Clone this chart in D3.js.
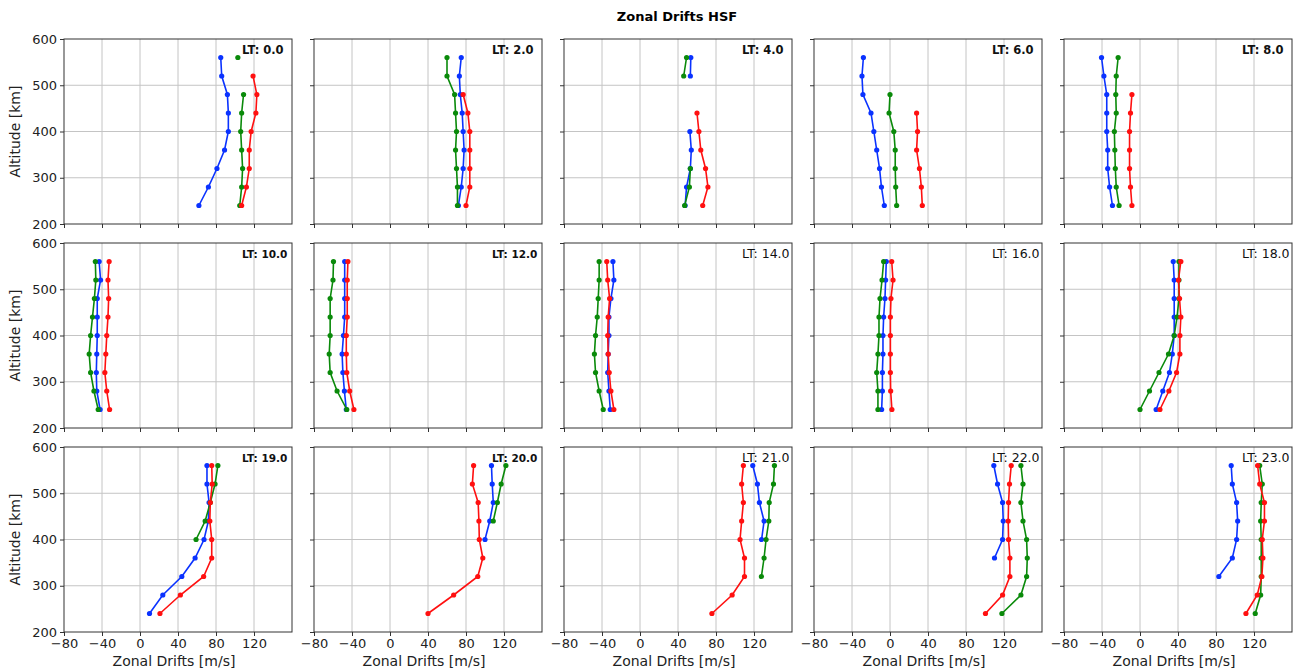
<!DOCTYPE html>
<html lang="en">
<head>
    <meta charset="UTF-8">
    <title>Zonal Drifts HSF</title>
    <script src="https://d3js.org/d3.v7.min.js"></script>
    <style>
        body { margin: 0; background: #fff; }
        text { font-family: "DejaVu Sans", sans-serif; }
    </style>
</head>
<body>
    <svg></svg>
    <script>
        const width = 1298;
        const height = 670;

        // altitudes in km (bottom to top)
        const altitudes = [240, 280, 320, 360, 400, 440, 480, 520, 560];
        const localTimes = [0, 2, 4, 6, 8, 10, 12, 14, 16, 18, 19, 20, 21, 22, 23];
        const xTicks = [-80, -40, 0, 40, 80, 120];
        const yTicks = [200, 300, 400, 500, 600];

        // zonal drifts [m/s], one array per LT, values matching altitudes; null = no data
        const blue = [
            [62, 72, 81, 89, 93, 93, 92, 86, 85],
            [72, 75, 77, 78, 77, 76, 74, 73, 75],
            [47.5, 49, 53, 54, 52.5, null, null, 53, 53.5],
            [-6, -9, -11, -14, -17, -20, -28.5, -29.5, -28],
            [-29, -32, -34, -34, -35, -35, -35, -38, -40.5],
            [-42, -45.5, -46, -45.5, -45, -45, -45, -41.5, -43],
            [-46, -48, -49.6, -50.4, -49, -47.7, -47.7, -47.7, -47.7],
            [-31.3, -32.7, -34, -33.5, -32.7, -32.7, -30.6, -27.5, -28.5],
            [-8.8, -8, -8, -7.4, -7.4, -6.7, -5.3, -4.6, -3.9],
            [17, 24, 31, 34, 36, 36, 36, 36, 35],
            [10, 24, 44, 58, 67.4, 72, 72.7, 70.5, 70.5],
            [null, null, null, null, 100, 105, 108.7, 107.6, 106.8],
            [null, null, null, null, 128, 130.6, 125.7, 123.6, 118.7],
            [null, null, null, 110, 118.5, 119.2, 118.5, 113.2, 109.3],
            [null, null, 83, 97.2, 101.7, 102.8, 101.7, 97.2, 96]
        ];
        const green = [
            [105, 107, 108, 107, 106, 107, 109, null, 103],
            [71, 71, 70, 69, 70, 69, 68, 60, 60],
            [47, 52, 53, null, null, null, null, 46, 49],
            [7, 6, 5.5, 5.5, 4, -1, 0, null, null],
            [-22, -25, -26, -26.5, -27, -25, -25.5, -25, -23],
            [-44, -48.5, -52, -53.5, -52, -50, -48, -46.5, -47],
            [-45.5, -55.7, -63, -64, -63, -63, -63, -60, -59.5],
            [-38.7, -43, -46.8, -48, -46.8, -45, -44, -43, -43],
            [-12.7, -12.7, -14, -12.7, -11.6, -11.6, -10.5, -8.4, -6.7],
            [0, 10, 20, 30, 36, 39, 41, 41, 41],
            [null, null, null, null, 59, 68.6, 74, 79, 82],
            [null, null, null, null, null, 108.7, 113, 117, 122],
            [null, null, 127.8, 130.6, 132.7, 135.6, 136, 140.5, 141.5],
            [117.8, 137.8, 143.8, 144.5, 143.8, 140, 137.8, 140, 137.8],
            [121.3, 127, 127.6, 127.6, 127.6, 127, 127.6, 128.7, 126]
        ];
        const red = [
            [107, 112, 115, 115, 117, 122, 123, 119, null],
            [80, 84, 84, 84, 84, 82, 77, null, null],
            [66, 71.5, 69, 64, 62, 60, null, null, null],
            [34, 33, 31, 28, 29, 28, null, null, null],
            [-8.5, -10, -11, -11, -11, -10, -8.5, null, null],
            [-32, -35, -37, -36, -35, -33.7, -33, -33.7, -32.5],
            [-38, -42.4, -45.5, -46, -46, -45, -45, -45, -44.3],
            [-27.5, -30.6, -32.4, -33.5, -34, -33.5, -32, -34, -35],
            [2, 0.7, 0.4, 0.4, 0.4, 0.4, 1, 3.2, 1.8],
            [21, 30.4, 38.5, 42, 42, 43, 41.6, 40.5, 43],
            [21, 42.5, 67, 75.5, 75.5, 73.5, 74, 76, 75.5],
            [40, 67, 92.4, 97.7, 94, 93.6, 92.8, 86.7, 88],
            [75.7, 97, 110, 110, 105.3, 107, 108.8, 107, 108.8],
            [100.5, 118.5, 126.2, 126.2, 124.8, 124.4, 124.8, 125.8, 127.6],
            [111.5, 123.4, 128.3, 129.4, 128.7, 131, 131, 126, 123.8]
        ];

        const series = [
            {values: blue, color: "#0a32ff"},
            {values: green, color: "#0a8a0a"},
            {values: red, color: "#ff1010"}
        ];

        const cols = 5;
        const panelW = 228, panelH = 185;
        const left0 = 64, top0 = 39;
        const stepX = 250, stepY = 204;

        const svg = d3.select("svg")
            .attr("width", width)
            .attr("height", height);

        svg.append("text")
            .attr("x", 677)
            .attr("y", 21)
            .attr("text-anchor", "middle")
            .style("font-size", "13px")
            .style("font-weight", "bold")
            .text("Zonal Drifts HSF");

        const x = d3.scaleLinear().domain([-80, 160]).range([0, panelW]);
        const y = d3.scaleLinear().domain([200, 600]).range([panelH, 0]);

        const boldLabels = new Set([10, 12, 19, 20]);

        localTimes.forEach((lt, i) => {
            const col = i % cols, row = Math.floor(i / cols);
            const g = svg.append("g")
                .attr("transform", `translate(${left0 + col * stepX},${top0 + row * stepY})`);

            // grid
            g.append("g")
                .selectAll("line.gx")
                .data(xTicks.slice(1))
                .join("line")
                .attr("x1", d => x(d)).attr("x2", d => x(d))
                .attr("y1", 0).attr("y2", panelH)
                .attr("stroke", "#c4c4c4").attr("stroke-width", 1);
            g.append("g")
                .selectAll("line.gy")
                .data(yTicks.slice(1, -1))
                .join("line")
                .attr("y1", d => y(d)).attr("y2", d => y(d))
                .attr("x1", 0).attr("x2", panelW)
                .attr("stroke", "#c4c4c4").attr("stroke-width", 1);

            // axes
            const xAxis = d3.axisBottom(x).tickValues(xTicks).tickSize(4).tickPadding(3)
                .tickFormat(row === 2 ? (d => d < 0 ? "\u2212" + Math.abs(d) : d) : "");
            const yAxis = d3.axisLeft(y).tickValues(yTicks).tickSize(4).tickPadding(3)
                .tickFormat(col === 0 ? d3.format("d") : "");
            const gx = g.append("g").attr("transform", `translate(0,${panelH})`).call(xAxis);
            const gy = g.append("g").call(yAxis);
            [gx, gy].forEach(a => {
                a.select(".domain").remove();
                a.selectAll("text").style("font-size", "13px").attr("fill", "#222");
                a.selectAll("line").attr("stroke", "#333");
            });

            // series
            const line = d3.line()
                .defined(d => d[0] !== null)
                .x(d => x(d[0]))
                .y(d => y(d[1]));
            series.forEach(s => {
                const pts = s.values[i].map((v, k) => [v, altitudes[k]]);
                g.append("path")
                    .datum(pts)
                    .attr("d", line)
                    .attr("fill", "none")
                    .attr("stroke", s.color)
                    .attr("stroke-width", 1.6);
                g.selectAll(null)
                    .data(pts.filter(d => d[0] !== null))
                    .join("circle")
                    .attr("cx", d => x(d[0]))
                    .attr("cy", d => y(d[1]))
                    .attr("r", 2.6)
                    .attr("fill", s.color);
            });

            // frame
            g.append("rect")
                .attr("width", panelW).attr("height", panelH)
                .attr("fill", "none").attr("stroke", "#333").attr("stroke-width", 1);

            const isBold = boldLabels.has(lt);
            g.append("text")
                .attr("x", 178)
                .attr("y", 15)
                .style("font-size", isBold ? "10.5px" : (row === 0 ? "11.5px" : "12.5px"))
                .style("font-weight", isBold ? "bold" : (row === 0 ? "600" : "normal"))
                .attr("fill", "#111")
                .text(`LT: ${lt.toFixed(1)}`);

            if (col === 0) {
                g.append("text")
                    .attr("transform", `translate(-44,${panelH / 2}) rotate(-90)`)
                    .attr("text-anchor", "middle")
                    .style("font-size", "14px")
                    .attr("fill", "#222")
                    .text("Altitude [km]");
            }
            if (row === 2) {
                g.append("text")
                    .attr("x", panelW / 2 - 4)
                    .attr("y", panelH + 34)
                    .attr("text-anchor", "middle")
                    .style("font-size", "14px")
                    .attr("fill", "#222")
                    .text("Zonal Drifts [m/s]");
            }
        });
    </script>
</body>
</html>
